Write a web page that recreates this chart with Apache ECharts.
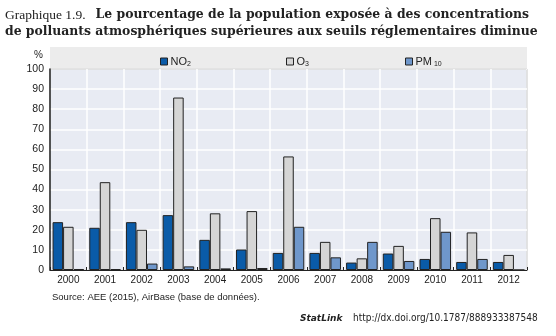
<!DOCTYPE html>
<html><head><meta charset="utf-8">
<script src="https://cdn.jsdelivr.net/npm/echarts@6/dist/echarts.min.js"></script>
<style>html,body{margin:0;padding:0;background:#fff}#c{width:556px;height:336px}</style>
</head><body><div id="c"></div>
<script>
var years = ['2000','2001','2002','2003','2004','2005','2006','2007','2008','2009','2010','2011','2012'];
var no2 = [23.8, 21, 23.8, 27.3, 15, 10.2, 8.5, 8.5, 3.7, 8.2, 5.5, 4, 4];
var o3 = [21.5, 43.7, 20, 85.8, 28.2, 29.3, 56.5, 14, 5.8, 12, 25.8, 18.7, 7.5];
var pm10 = [0.5, 0.4, 3.2, 1.8, 0.8, 1, 21.5, 6.3, 14, 4.5, 19, 5.5, 0];
var yTicks = [0,10,20,30,40,50,60,70,80,90,100];
var seriesNames = ['NO2','O3','PM10'];
var seriesLabels = ['{a|NO}{s|2}','{a|O}{s|3}','{a|PM}{s| 10}'];
var colors = ['#0a5ba8','#d5d5d5','#6f97cb'];

var chart = echarts.init(document.getElementById('c'), null, {renderer:'canvas'});
var narrow = '"Liberation Sans Narrow", "Liberation Sans", Arial, sans-serif';
var rich = {a:{fontFamily:narrow,fontSize:11,color:'#222'}, s:{fontFamily:narrow,fontSize:7,color:'#222',padding:[6,0,0,0]}};
var legendLefts = [155, 281, 400];
var legends = seriesNames.map(function(n,i){
  return {data:[n], left:legendLefts[i], top:51, itemWidth:7, itemHeight:7, itemGap:3,
    icon:'rect', itemStyle:{borderColor:'#222',borderWidth:1},
    formatter:function(){return seriesLabels[i];}, textStyle:{rich:rich, padding:[0,0,0,-2]}, selectedMode:false};
});
chart.setOption({
  animation:false,
  color:colors,
  title:[{
    text:'{r|Graphique 1.9.}  {b|Le pourcentage de la population exposée à des concentrations}\n{b|de polluants atmosphériques supérieures aux seuils réglementaires diminue}',
    left:5, top:6, padding:0,
    textStyle:{fontWeight:'normal', rich:{
      r:{fontFamily:'"Liberation Serif", serif',fontSize:13.5,fontWeight:'normal',color:'#222',lineHeight:15},
      b:{fontFamily:'"DejaVu Serif", serif',fontSize:12.4,fontWeight:'bold',color:'#222',lineHeight:15}
    }}
  }],
  graphic:[
    {type:'rect', shape:{x:50,y:47,width:477,height:21}, style:{fill:'#ececec'}, z:-1},
    {type:'text', left:34, top:50, style:{text:'%', font:'10px '+narrow, fill:'#222'}},
    {type:'text', left:52, top:292, style:{text:'Source: AEE (2015), AirBase (base de données).', font:'9.5px '+narrow, fill:'#222'}},
    {type:'text', left:300, top:314, style:{text:'StatLink', font:'italic bold 9px "DejaVu Sans", sans-serif', fill:'#222'}},
    {type:'text', left:353, top:313, style:{text:'http://dx.doi.org/10.1787/888933387548', font:'10px "DejaVu Sans Condensed", "DejaVu Sans", sans-serif', fill:'#222'}}
  ],
  legend:legends,
  grid:{left:50, right:29, top:69, bottom:66, show:true, backgroundColor:'#e8ebf3', borderColor:'#222', borderWidth:1},
  xAxis:{type:'category', data:years,
    axisLine:{lineStyle:{color:'#222',width:1}},
    axisTick:{show:true, inside:true, length:3, lineStyle:{color:'#222'}},
    axisLabel:{fontFamily:narrow, fontSize:10, color:'#222', margin:5},
    splitLine:{show:true, lineStyle:{color:'#ffffff', width:1.5}}
  },
  yAxis:{type:'value', min:0, max:100, interval:10,
    axisLine:{show:true, lineStyle:{color:'#222',width:1.5}},
    axisTick:{show:false},
    axisLabel:{fontFamily:narrow, fontSize:10.5, color:'#222', margin:6,
      formatter:function(v){return yTicks.indexOf(v)>=0?String(v):'';}},
    splitLine:{lineStyle:{color:'#ffffff', width:1.5}}
  },
  series:[no2,o3,pm10].map(function(d,i){
    return {name:seriesNames[i], type:'bar', data:d, barGap:'0%', barCategoryGap:'14%',
      itemStyle:{color:colors[i], borderColor:'#222', borderWidth:1}};
  })
});
</script></body></html>
